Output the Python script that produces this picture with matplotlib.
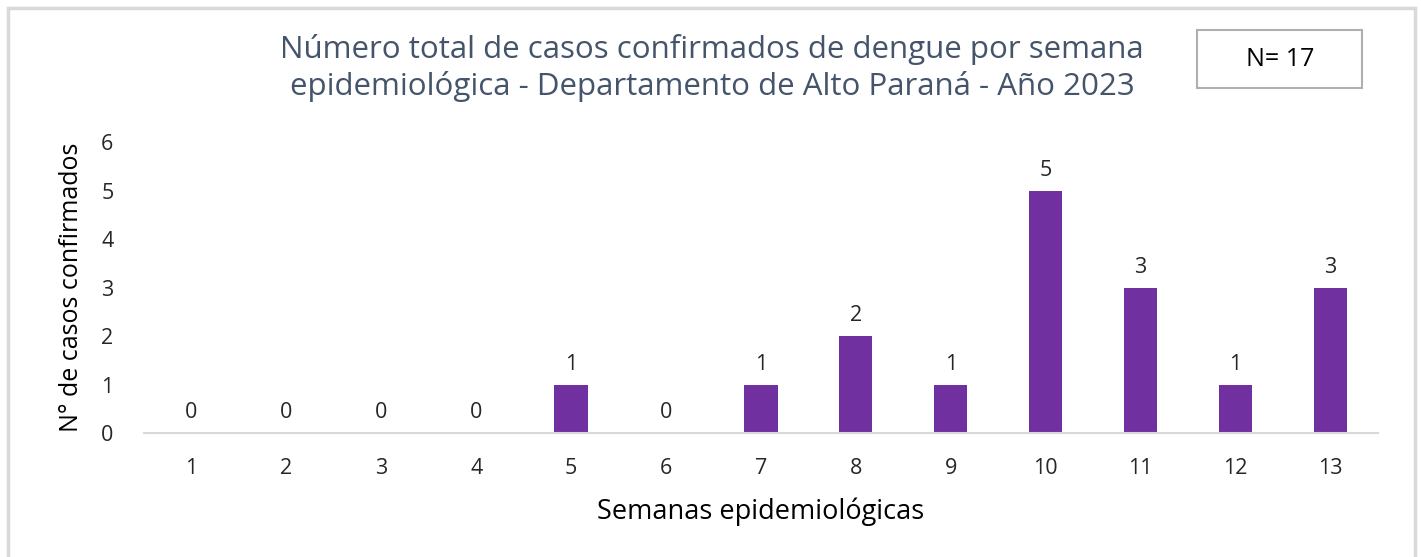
import matplotlib.pyplot as plt
from matplotlib.patches import Rectangle

semanas = ["1", "2", "3", "4", "5", "6", "7", "8", "9", "10", "11", "12", "13"]
casos = [0, 0, 0, 0, 1, 0, 1, 2, 1, 5, 3, 1, 3]
total = 17

plt.rcParams['font.family'] = ['Open Sans', 'DejaVu Sans']

fig = plt.figure(figsize=(14.21, 5.57), dpi=100)
ax = fig.add_axes([0.1013, 0.2226, 0.8684, 0.5224])

x = range(len(semanas))
bars = ax.bar(x, casos, width=0.35, color="#7030A0", zorder=2)
for i, v in enumerate(casos):
    ax.text(i, v + 0.2, str(v), ha="center", va="bottom", fontsize=15.5, color="#262626")

ax.set_xlim(-0.5, len(semanas) - 0.5)
ax.set_ylim(0, 6)
ax.set_xticks(list(x))
ax.set_xticklabels(semanas)
ax.set_yticks(range(7))
ax.tick_params(axis="both", length=0, labelsize=15.5, colors="#262626")
ax.tick_params(axis="x", pad=18)
ax.tick_params(axis="y", pad=22)
for s in ["top", "right", "left"]:
    ax.spines[s].set_visible(False)
ax.spines["bottom"].set_color("#D9D9D9")
ax.spines["bottom"].set_linewidth(1.5)

ax.set_xlabel("Semanas epidemiológicas", fontsize=19.5, color="#000000", labelpad=13)
ax.set_ylabel("N° de casos confirmados", fontsize=18, color="#000000", labelpad=12)

fig.text(0.501, 0.878, "Número total de casos confirmados de dengue por semana\nepidemiológica - Departamento de Alto Paraná - Año 2023",
         ha="center", va="center", fontsize=22.5, color="#44546A", linespacing=1.22)

# caja N
fig.patches.append(Rectangle((1197 / 1421, 1 - 88 / 557), 165 / 1421, 58 / 557,
                             transform=fig.transFigure, fill=False, edgecolor="#AFAFAF", linewidth=1.5))
fig.text(1280 / 1421, 1 - 60 / 557, f"N= {total}", ha="center", va="center", fontsize=18, color="#000000")

# marco
fig.patches.append(Rectangle((8 / 1421, -0.05), 1407 / 1421, 1.05 - 8 / 557,
                             transform=fig.transFigure, fill=False, edgecolor="#D9D9D9", linewidth=2.5))

fig.savefig("out.png", dpi=100)
